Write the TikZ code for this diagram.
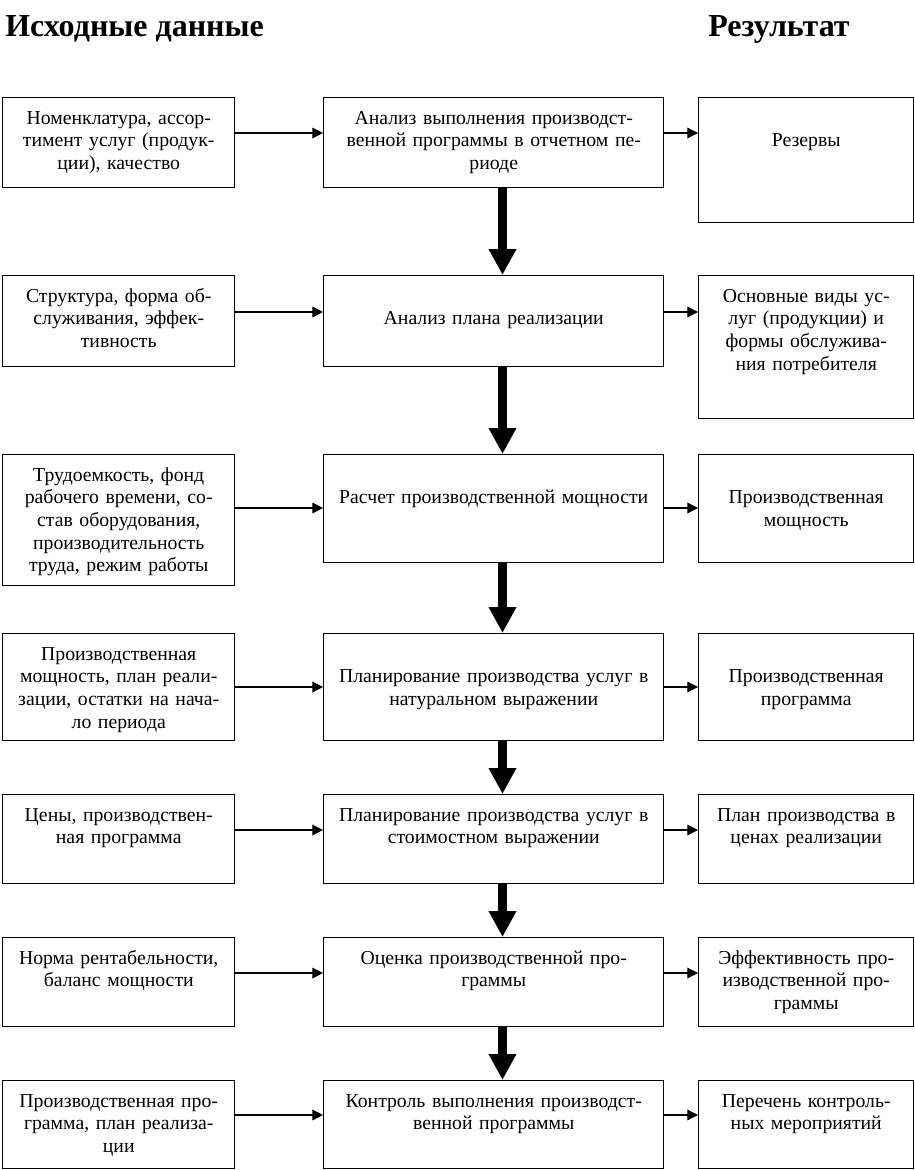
\documentclass[tikz,border=0pt]{standalone}
\usepackage{fontspec}
\setmainfont{Liberation Serif}
\usetikzlibrary{arrows.meta}
\tikzstyle{box}=[draw, line width=1.1pt, anchor=north west, inner sep=0pt]
\tikzstyle{lbox}=[box, minimum width=174pt]
\tikzstyle{mbox}=[box, minimum width=255pt]
\tikzstyle{rbox}=[box, minimum width=161.25pt]
\tikzstyle{txt}=[anchor=north, inner sep=0pt, text width=250pt, align=center, text height=20.25pt, font=\fontsize{14.8}{17}\selectfont]
\tikzstyle{head}=[anchor=base west, inner sep=0pt, font=\fontsize{24}{28}\selectfont\bfseries]
\tikzstyle{arrow}=[draw, line width=0.9pt, -{Triangle[length=8pt,width=8pt]}]
\tikzstyle{bigarrow}=[draw, line width=6.75pt, -{Triangle[length=19.5pt,width=19.5pt]}]

\begin{document}
\begin{tikzpicture}[x=0.75pt, y=-0.75pt]
\useasboundingbox (0,0) rectangle (914,1170); % page = 914x1170 px
\node[head] (hin) at (5,37) {Исходные данные};
\node[head] (hout) at (708,37) {Результат};
% row 1
\node[lbox, minimum height=67.5pt, label={[txt]north:Номенклатура, ассор-\\тимент услуг (продук-\\ции), качество}] (l1) at (2,97) {};
\node[mbox, minimum height=67.5pt, label={[txt]north:Анализ выполнения производст-\\венной программы в отчетном пе-\\риоде}] (m1) at (323,97) {};
\node[rbox, minimum height=93.75pt, label={[txt]north:\mbox{}\\Резервы}] (r1) at (698,97) {};
% row 2
\node[lbox, minimum height=68.25pt, label={[txt]north:Структура, форма об-\\служивания, эффек-\\тивность}] (l2) at (2,275) {};
\node[mbox, minimum height=68.25pt, label={[txt]north:\mbox{}\\Анализ плана реализации}] (m2) at (323,275) {};
\node[rbox, minimum height=107.25pt, label={[txt]north:Основные виды ус-\\луг (продукции) и\\формы обслужива-\\ния потребителя}] (r2) at (698,275) {};
% row 3
\node[lbox, minimum height=98.25pt, label={[txt]north:Трудоемкость, фонд\\рабочего времени, со-\\став оборудования,\\производительность\\труда, режим работы}] (l3) at (2,454) {};
\node[mbox, minimum height=81pt, label={[txt]north:\mbox{}\\Расчет производственной мощности}] (m3) at (323,454) {};
\node[rbox, minimum height=81pt, label={[txt]north:\mbox{}\\Производственная\\мощность}] (r3) at (698,454) {};
% row 4
\node[lbox, minimum height=80.25pt, label={[txt]north:Производственная\\мощность, план реали-\\зации, остатки на нача-\\ло периода}] (l4) at (2,633) {};
\node[mbox, minimum height=80.25pt, label={[txt]north:\mbox{}\\Планирование производства услуг в\\натуральном выражении}] (m4) at (323,633) {};
\node[rbox, minimum height=80.25pt, label={[txt]north:\mbox{}\\Производственная\\программа}] (r4) at (698,633) {};
% row 5
\node[lbox, minimum height=66.75pt, label={[txt]north:Цены, производствен-\\ная программа}] (l5) at (2,794) {};
\node[mbox, minimum height=66.75pt, label={[txt]north:Планирование производства услуг в\\стоимостном выражении}] (m5) at (323,794) {};
\node[rbox, minimum height=66.75pt, label={[txt]north:План производства в\\ценах реализации}] (r5) at (698,794) {};
% row 6
\node[lbox, minimum height=66.75pt, label={[txt]north:Норма рентабельности,\\баланс мощности}] (l6) at (2,937) {};
\node[mbox, minimum height=66.75pt, label={[txt]north:Оценка производственной про-\\граммы}] (m6) at (323,937) {};
\node[rbox, minimum height=66.75pt, label={[txt]north:Эффективность про-\\изводственной про-\\граммы}] (r6) at (698,937) {};
% row 7
\node[lbox, minimum height=66pt, label={[txt]north:Производственная про-\\грамма, план реализа-\\ции}] (l7) at (2,1080) {};
\node[mbox, minimum height=66pt, label={[txt]north:Контроль выполнения производст-\\венной программы}] (m7) at (323,1080) {};
\node[rbox, minimum height=66pt, label={[txt]north:Перечень контроль-\\ных мероприятий}] (r7) at (698,1080) {};
\foreach \i/\y in {1/133,2/312,3/508,4/687,5/830,6/973,7/1115} % edit here for the side arrows
{\path[arrow] (l\i.east |- 0,\y) -- (m\i.west |- 0,\y);
\path[arrow] (m\i.east |- 0,\y) -- (r\i.west |- 0,\y);}
\foreach \i/\j in {1/2,2/3,3/4,4/5,5/6,6/7} % thick arrows down the middle
\path[bigarrow] (m\i.south -| 502.5,0) -- (m\j.north -| 502.5,0);
\end{tikzpicture}
\end{document}
